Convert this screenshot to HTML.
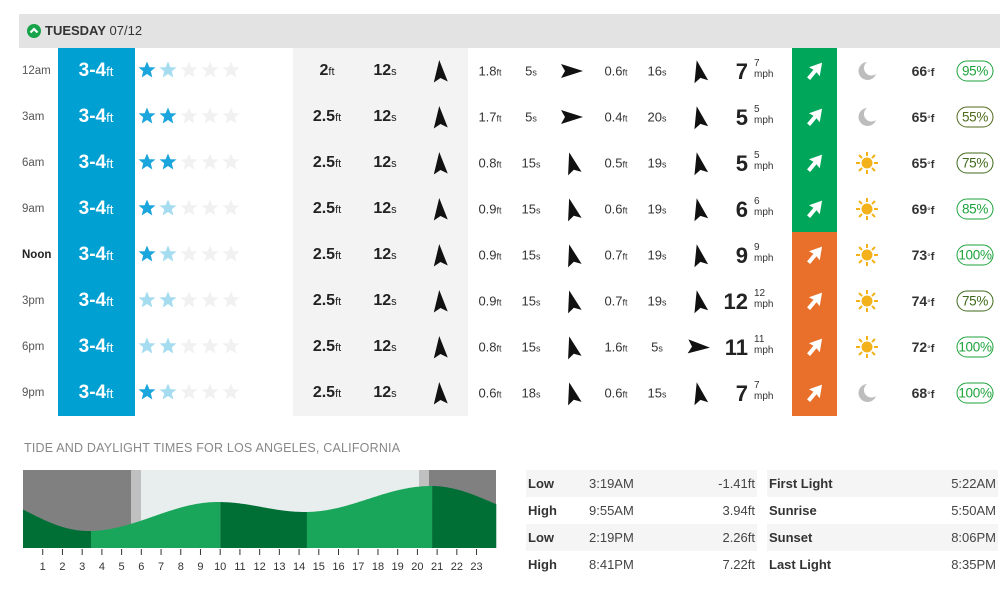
<!DOCTYPE html>
<html><head><meta charset="utf-8">
<style>
*{margin:0;padding:0;box-sizing:border-box}
body{width:1006px;height:594px;background:#fff;font-family:"Liberation Sans",Arial,sans-serif;color:#333;position:relative;overflow:hidden}
.a{position:absolute}
.hdr{left:19px;top:14px;width:981px;height:34px;background:#e3e3e3}
.c{position:absolute;transform:translate(-50%,-50%);white-space:nowrap}
.u{font-size:11px;font-weight:normal}
.tb{position:absolute;font-size:13px;color:#444}
.tb div{height:27px;line-height:27px;position:relative}
.tb div:nth-child(odd){background:#f5f5f5}
.tb b{position:absolute;left:2px;color:#333}
.tb .m{position:absolute;left:63px}
.tb .r{position:absolute;right:2px}
</style></head><body>
<div class="a hdr"></div>
<svg class="a" style="left:27px;top:24px" width="14" height="14"><circle cx="7" cy="7" r="7" fill="#16a34a"/><path d="M3.5 8.5 L7 5 L10.5 8.5" stroke="#fff" stroke-width="2.2" fill="none"/></svg>
<div class="a" style="left:45px;top:23px;font-size:13px;color:#333"><b>TUESDAY</b> 07/12</div>
<div class="a" style="left:58px;top:48px;width:77px;height:368px;background:#00a0d2"></div>
<div class="a" style="left:293px;top:48px;width:175px;height:368px;background:#f3f3f3"></div>
<div class="a" style="left:792px;top:48px;width:45px;height:184px;background:#00a65a"></div>
<div class="a" style="left:792px;top:232px;width:45px;height:184px;background:#e8702a"></div>
<div id="rows"></div>
<div class="a" style="left:24px;top:441px;font-size:12.5px;color:#888;letter-spacing:0.2px">TIDE AND DAYLIGHT TIMES FOR LOS ANGELES, CALIFORNIA</div>
<svg class="a" style="left:0;top:460px" width="520" height="120" id="tide"></svg>
<div class="tb" style="left:526px;top:470px;width:231px">
<div><b>Low</b><span class="m">3:19AM</span><span class="r">-1.41ft</span></div>
<div><b>High</b><span class="m">9:55AM</span><span class="r">3.94ft</span></div>
<div><b>Low</b><span class="m">2:19PM</span><span class="r">2.26ft</span></div>
<div><b>High</b><span class="m">8:41PM</span><span class="r">7.22ft</span></div>
</div>
<div class="tb" style="left:767px;top:470px;width:231px">
<div><b>First Light</b><span class="r">5:22AM</span></div>
<div><b>Sunrise</b><span class="r">5:50AM</span></div>
<div><b>Sunset</b><span class="r">8:06PM</span></div>
<div><b>Last Light</b><span class="r">8:35PM</span></div>
</div>
<script>
var T=["12am","3am","6am","9am","Noon","3pm","6pm","9pm"];
var ST=[[2,1],[2,2],[2,2],[2,1],[2,1],[1,1],[1,1],[2,1]];
var P=["2","2.5","2.5","2.5","2.5","2.5","2.5","2.5"];
var S2=[["1.8","5"],["1.7","5"],["0.8","15"],["0.9","15"],["0.9","15"],["0.9","15"],["0.8","15"],["0.6","18"]];
var S3=[["0.6","16"],["0.4","20"],["0.5","19"],["0.6","19"],["0.7","19"],["0.7","19"],["1.6","5"],["0.6","15"]];
var W=[7,5,5,6,9,12,11,7];
var WX=[0,0,1,1,1,1,1,0];
var TP=[66,65,65,69,73,74,72,68];
var PC=[["95%","#1ea33c"],["55%","#4f6a1a"],["75%","#3f6a1a"],["85%","#1ea33c"],["100%","#1ea33c"],["75%","#3f6a1a"],["100%","#1ea33c"],["100%","#1ea33c"]];
var star="M0,-8.5 L2.4,-2.8 L8.5,-2.6 L3.8,1.3 L5.3,7.5 L0,4 L-5.3,7.5 L-3.8,1.3 L-8.5,-2.6 L-2.4,-2.8Z";
function arrow(x,y,rot){return '<svg class="a" style="left:'+(x-13)+'px;top:'+(y-13)+'px" width="26" height="26"><g transform="translate(13,13) rotate('+rot+')"><path d="M0,-11 L7,11 L0,7 L-7,11Z" fill="#111"/></g></svg>';}
var h="";
for(var i=0;i<8;i++){
 var y=71+46*i;
 h+='<div class="a" style="left:22px;top:'+(y-6)+'px;font-size:11.5px;'+(i==4?'font-weight:bold;color:#222':'color:#555')+'">'+T[i]+'</div>';
 h+='<div class="c" style="left:96px;top:'+y+'px;color:#fff;font-size:19px;font-weight:bold">3-4<span style="font-size:13px;font-weight:normal">ft</span></div>';
 var s='<svg class="a" style="left:137px;top:'+(y-11)+'px" width="110" height="20">';
 for(var k=0;k<5;k++){var col=k==0?(ST[i][0]==2?"#1aa6dc":"#a6dcf0"):k==1?(ST[i][1]==2?"#1aa6dc":"#a6dcf0"):"#f1f1f1";s+='<path transform="translate('+(10+k*21)+',10)" d="'+star+'" fill="'+col+'"/>';}
 h+=s+'</svg>';
 h+='<div class="c" style="left:327px;top:'+y+'px;font-size:16px;font-weight:bold;color:#222">'+P[i]+'<span class="u">ft</span></div>';
 h+='<div class="c" style="left:385px;top:'+y+'px;font-size:16px;font-weight:bold;color:#222">12<span class="u">s</span></div>';
 h+=arrow(440,y,-4);
 h+='<div class="c" style="left:490px;top:'+y+'px;font-size:13px;color:#333">'+S2[i][0]+'<span style="font-size:9px">ft</span></div>';
 h+='<div class="c" style="left:531px;top:'+y+'px;font-size:13px;color:#333">'+S2[i][1]+'<span style="font-size:9px">s</span></div>';
 h+=arrow(572,y,i<2?90:-15);
 h+='<div class="c" style="left:616px;top:'+y+'px;font-size:13px;color:#333">'+S3[i][0]+'<span style="font-size:9px">ft</span></div>';
 h+='<div class="c" style="left:657px;top:'+y+'px;font-size:13px;color:#333">'+S3[i][1]+'<span style="font-size:9px">s</span></div>';
 h+=arrow(699,y,i==6?93:-12);
 h+='<div class="a" style="right:'+(1006-748)+'px;top:'+(y-12)+'px;font-size:22px;font-weight:bold;color:#222">'+W[i]+'</div>';
 h+='<div class="a" style="left:754px;top:'+(y-13)+'px;font-size:10px;color:#333;line-height:11px">'+W[i]+'<br>mph</div>';
 h+='<svg class="a" style="left:802px;top:'+(y-13)+'px" width="26" height="26"><g transform="translate(13,13) rotate(40)"><path d="M0,-11 L7,1 L2,0 L2,10 L-2,10 L-2,0 L-7,1Z" fill="#fff"/></g></svg>';
 if(WX[i]) h+='<svg class="a" style="left:854px;top:'+(y-13)+'px" width="26" height="26"><g stroke="#f3b21c" stroke-width="2"><line x1="13" y1="2" x2="13" y2="6"/><line x1="13" y1="20" x2="13" y2="24"/><line x1="2" y1="13" x2="6" y2="13"/><line x1="20" y1="13" x2="24" y2="13"/><line x1="5" y1="5" x2="8" y2="8"/><line x1="18" y1="18" x2="21" y2="21"/><line x1="5" y1="21" x2="8" y2="18"/><line x1="18" y1="8" x2="21" y2="5"/></g><circle cx="13" cy="13" r="5.5" fill="#f3b21c"/></svg>';
 else h+='<svg class="a" style="left:856px;top:'+(y-11)+'px" width="22" height="22"><path d="M11,2 A9,9 0 1,0 20,14 A7,7 0 0,1 11,2Z" fill="#bdbdbd"/></svg>';
 h+='<div class="c" style="left:923px;top:'+y+'px;font-size:14px;font-weight:bold;color:#333">'+TP[i]+'<span style="font-size:9px;font-weight:normal">°</span><span style="font-size:11px">f</span></div>';
 h+='<div class="c" style="left:975px;top:'+y+'px;font-size:13.5px;color:'+PC[i][1]+';border:1.3px solid '+PC[i][1]+';border-radius:11px;width:37px;height:21px;line-height:19px;text-align:center;letter-spacing:-0.3px">'+PC[i][0]+'</div>';
}
document.getElementById('rows').innerHTML=h;
var ex=[[-3.1,490],[3.3,531],[9.9,502],[14.3,512],[20.7,486],[27,520]];
function ty(t){for(var j=0;j<ex.length-1;j++){if(t>=ex[j][0]&&t<=ex[j+1][0]){var f=(t-ex[j][0])/(ex[j+1][0]-ex[j][0]);return ex[j][1]+(ex[j+1][1]-ex[j][1])*(1-Math.cos(Math.PI*f))/2;}}return 500;}
function X(t){return 23+t*19.72;}
var g='';
g+='<rect x="23" y="10" width="108" height="78" fill="#808080"/><rect x="131" y="10" width="10" height="78" fill="#c0c0c0"/><rect x="141" y="10" width="278" height="78" fill="#e8eeed"/><rect x="419" y="10" width="10" height="78" fill="#c0c0c0"/><rect x="429" y="10" width="67" height="78" fill="#808080"/>';
var segs=[[0,3.45,"#006f36"],[3.45,10,"#1aa65a"],[10,14.4,"#006f36"],[14.4,20.75,"#1aa65a"],[20.75,24,"#006f36"]];
segs.forEach(function(s){var d='M'+X(s[0])+',88';for(var t=s[0];t<=s[1]+0.001;t+=0.05){d+=' L'+X(t).toFixed(1)+','+(ty(t)-460).toFixed(1);}d+=' L'+X(s[1])+','+(ty(s[1])-460).toFixed(1)+' L'+X(s[1])+',88Z';g+='<path d="'+d+'" fill="'+s[2]+'"/>';});
for(var k=1;k<=23;k++){var x=X(k);g+='<line x1="'+x+'" y1="89" x2="'+x+'" y2="95" stroke="#333" stroke-width="1"/><text x="'+x+'" y="110" font-size="11" fill="#333" text-anchor="middle" font-family="Liberation Sans, sans-serif">'+k+'</text>';}
document.getElementById('tide').innerHTML=g;
</script>
</body></html>
